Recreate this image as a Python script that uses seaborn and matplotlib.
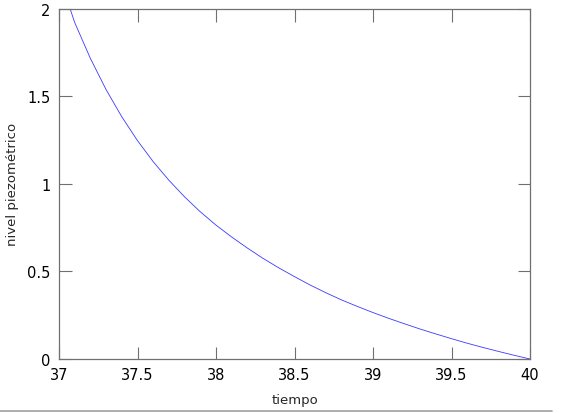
import numpy as np
import pandas as pd
import matplotlib
matplotlib.use("Agg")
import matplotlib.pyplot as plt
import seaborn as sns
from matplotlib.lines import Line2D

# datos
tiempo = [37.07, 37.1, 37.2, 37.3, 37.4, 37.5, 37.6, 37.7, 37.8, 37.9,
          38.0, 38.1, 38.2, 38.3, 38.4, 38.5, 38.6, 38.7, 38.8, 38.9,
          39.0, 39.1, 39.2, 39.3, 39.4, 39.5, 39.6, 39.7, 39.8, 39.9, 40.0]
nivel = [2.0, 1.92, 1.715, 1.537, 1.382, 1.246, 1.126, 1.020, 0.925, 0.840,
         0.764, 0.696, 0.633, 0.574, 0.520, 0.470, 0.422, 0.378, 0.337, 0.300,
         0.265, 0.232, 0.201, 0.171, 0.143, 0.116, 0.090, 0.066, 0.043, 0.021, 0.0]
xticks = [37, 37.5, 38, 38.5, 39, 39.5, 40]
yticks = [0, 0.5, 1, 1.5, 2]

sns.set_theme(style="white")
plt.rcParams['font.family'] = ['DejaVu Sans']

df = pd.DataFrame({"tiempo": tiempo, "nivel": nivel})

fig = plt.figure(figsize=(5.63, 4.14), dpi=100)
ax = fig.add_axes([59 / 563, 1 - 360 / 414, (530 - 59) / 563, (360 - 9.5) / 414])

sns.lineplot(data=df, x="tiempo", y="nivel", ax=ax, color="#3a3aff", linewidth=0.6)

ax.set_xlim(37, 40)
ax.set_ylim(0, 2)
ax.set_xticks(xticks)
ax.set_xticklabels(["37", "37.5", "38", "38.5", "39", "39.5", "40"])
ax.set_yticks(yticks)
ax.set_yticklabels(["0", "0.5", "1", "1.5", "2"])
ax.tick_params(direction="in", length=9, width=0.8, color="#707070",
               labelsize=10.5, labelcolor="black", top=True, right=True,
               bottom=True, left=True, pad=6)
for s in ax.spines.values():
    s.set_color("#707070")
    s.set_linewidth(0.9)
ax.set_xlabel("tiempo", fontsize=9.5, labelpad=8)
ax.set_ylabel("nivel piezométrico", fontsize=9.5, labelpad=6)

# línea gris inferior
fig.add_artist(Line2D([0, 552 / 563], [2 / 414, 2 / 414], color="#a0a0a0",
                      linewidth=1.2, transform=fig.transFigure))

fig.savefig("out.png", dpi=100)
